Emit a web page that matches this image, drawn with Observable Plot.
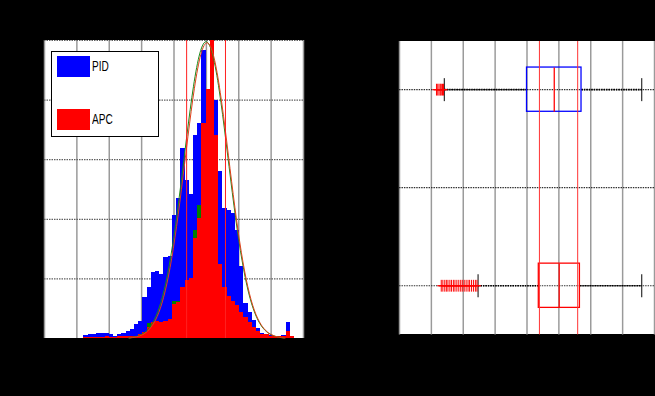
<!DOCTYPE html>
<html>
<head>
<meta charset="utf-8">
<script src="https://cdn.jsdelivr.net/npm/d3@7"></script>
<script src="https://cdn.jsdelivr.net/npm/@observablehq/plot@0.6"></script>
<style>
html, body { margin: 0; padding: 0; background: #000; overflow: hidden; }
#wrap { position: relative; width: 655px; height: 396px; background: #000; overflow: hidden;
        font-family: "Liberation Sans", Arial, sans-serif; }
#p1 { position: absolute; left: 44px; top: 40px; }
#p2 { position: absolute; left: 399px; top: 41px; }
#legend { position: absolute; left: 51px; top: 51px; width: 106px; height: 84px;
          background: #fff; border: 1.5px solid #000; }
.sw { position: absolute; left: 5px; width: 33px; height: 21px; }
.lab { position: absolute; left: 40px; font-size: 14px; line-height: 14px; color: #000;
       transform: scaleX(0.72); transform-origin: left center; }
</style>
</head>
<body>
<div id="wrap">
  <div id="p1"></div>
  <div id="p2"></div>
  <div id="legend"></div>
</div>
<script>
// ---------- data ----------
const seriesNames = ["PID", "APC"];
const seriesColors = ["#0000ff", "#ff0000"];

const binStart = 1.22;   // first histogram bin edge
const binWidth = 0.13;   // histogram bin width

const pidCounts = [0.05,0.06,0.06,0.08,0.09,0.09,0.06,0.04,0.07,0.08,
                   0.11,0.15,0.24,0.28,0.68,0.86,1.10,1.12,1.08,1.36,
                   1.38,2.06,2.35,3.18,2.65,2.42,3.40,3.60,4.83,3.50,
                   4.50,4.00,2.80,2.18,2.15,2.10,1.81,1.20,0.58,0.44,
                   0.30,0.16,0.08,0.05,0.05,0.04,0.04,0.05,0.27,0.02];
const apcCounts = [0.02,0.02,0.02,0.02,0.02,0.03,0.02,0.02,0.03,0.03,
                   0.03,0.03,0.04,0.06,0.10,0.19,0.27,0.29,0.27,0.29,
                   0.32,0.57,0.60,0.86,0.97,1.01,1.68,2.01,3.60,4.17,
                   5.00,3.40,1.25,0.85,0.70,0.62,0.55,0.44,0.36,0.27,
                   0.19,0.11,0.07,0.06,0.04,0.04,0.04,0.04,0.11,0.03];
// third (green) bar series, visible only where it peeks above red
const greenBins   = [15, 21, 22, 26, 27];
const greenCounts = [0.26, 0.62, 0.62, 1.81, 2.23];

// fitted curves
const fitGreenX = [2.6,2.8,3.0,3.2,3.4,3.6,3.8,4.0,4.2,4.4,4.6,4.8,5.0,5.2,5.4,5.6,5.8,6.0,6.2,6.4,6.6,6.8,7.0,7.2,7.4];
const fitGreenY = [0.010,0.028,0.069,0.156,0.324,0.617,1.077,1.726,2.535,3.418,4.225,4.789,4.98,4.748,4.152,3.331,2.450,1.653,1.023,0.580,0.302,0.144,0.063,0.025,0.009];
const fitRedX = [2.63,2.83,3.03,3.23,3.43,3.63,3.83,4.03,4.23,4.43,4.63,4.83,5.03,5.23,5.43,5.63,5.83,6.03,6.23,6.43,6.63,6.83,7.03,7.23,7.43];
const fitRedY = [0.009,0.026,0.064,0.147,0.310,0.595,1.049,1.691,2.500,3.385,4.197,4.768,4.96,4.726,4.124,3.298,2.414,1.620,0.995,0.559,0.288,0.136,0.059,0.023,0.008];

const limitLines = [4.39, 5.59];

const xTicks = [0,1,2,3,4,5,6,7,8];
const yTicksHist = [1,2,3,4,5];
const yTicksBox = [1, 1.5, 2];

// box plots
const boxPos   = [1, 2];
const boxQ1    = [4.00, 4.37];
const boxMed   = [4.855, 5.01];
const boxQ3    = [5.71, 5.66];
const boxLo    = [1.405, 2.465];
const boxHi    = [7.60, 7.60];
const boxColor = ["#0000ff", "#ff0000"];
const pidOutliers = [1.16,1.20,1.24,1.28,1.31,1.35,1.38];
const apcOutliers = [1.31,1.36,1.42,1.47,1.52,1.58,1.63,1.69,1.74,1.80,1.86,1.92,1.97,2.03,2.09,2.15,2.20,2.26,2.32,2.38,2.43];

// ---------- tables ----------
const bins = pidCounts.map((p, i) => ({
  x1: binStart + i * binWidth, x2: binStart + (i + 1) * binWidth, pid: p, apc: apcCounts[i]
}));
const greens = greenBins.map((b, i) => ({
  x1: binStart + b * binWidth, x2: binStart + (b + 1) * binWidth, v: greenCounts[i]
}));
const fitG = fitGreenX.map((x, i) => ({x, y: fitGreenY[i]}));
const fitR = fitRedX.map((x, i) => ({x, y: fitRedY[i]}));
const boxes = boxPos.map((p, i) => ({pos: p, q1: boxQ1[i], med: boxMed[i], q3: boxQ3[i],
  lo: boxLo[i], hi: boxHi[i], color: boxColor[i]}));
const outliers = [
  ...pidOutliers.map(x => ({x, pos: boxPos[0]})),
  ...apcOutliers.map(x => ({x, pos: boxPos[1]}))
];

// ---------- left: histogram ----------
const W1 = 259, H1 = 298;
const hist = Plot.plot({
  width: W1, height: H1, margin: 0,
  style: {background: "#fff", overflow: "visible"},
  x: {domain: [0, 8], axis: null},
  y: {domain: [0, 5], axis: null},
  marks: [
    Plot.ruleX(xTicks, {stroke: "#9a9a9a", strokeWidth: 1.5}),
    Plot.ruleY(yTicksHist, {stroke: "#606060", strokeWidth: 1.2, strokeDasharray: "1.5,1"}),
    Plot.rectY(bins, {x1: "x1", x2: "x2", y: "pid", fill: seriesColors[0], shapeRendering: "crispEdges"}),
    Plot.rectY(greens, {x1: "x1", x2: "x2", y: "v", fill: "#008000", shapeRendering: "crispEdges"}),
    Plot.rectY(bins, {x1: "x1", x2: "x2", y: "apc", fill: seriesColors[1], shapeRendering: "crispEdges"}),
    Plot.line(fitG, {x: "x", y: "y", stroke: "#1a8a1a", strokeWidth: 1, curve: "natural"}),
    Plot.line(fitR, {x: "x", y: "y", stroke: "#e0401a", strokeWidth: 1, curve: "natural"}),
    Plot.ruleX(limitLines, {stroke: "#ff2020", strokeWidth: 1})
  ]
});
document.getElementById("p1").appendChild(hist);

// ---------- right: box plots ----------
const unit = W1 / 8;          // px per x unit (same as left)
const W2 = 260, H2 = 298;
const rowPx = 199.5;          // px between the two rows
const yTop = 1 - 49 / rowPx, yBot = 2 + 50 / rowPx;
const boxH = 22.5 / rowPx, capH = 11.7 / rowPx;
const plusH = 6 / rowPx, plusW = 4 / unit;
const bp = Plot.plot({
  width: W2, height: H2, margin: 0,
  style: {background: "#fff", overflow: "visible"},
  x: {domain: [0, W2 / unit], axis: null},
  y: {domain: [yTop, yBot], reverse: true, axis: null},
  color: {type: "identity"},
  marks: [
    Plot.ruleX(xTicks, {stroke: "#9a9a9a", strokeWidth: 1.5}),
    Plot.ruleY(yTicksBox, {stroke: "#303030", strokeWidth: 1.2, strokeDasharray: "1.5,1"}),
    Plot.link(boxes, {x1: "q3", x2: "hi", y1: "pos", y2: "pos", stroke: "#000", strokeWidth: 1.6, strokeDasharray: "1.5,1"}),
    Plot.link(boxes, {x1: "lo", x2: "q1", y1: "pos", y2: "pos", stroke: "#000", strokeWidth: 1.6, strokeDasharray: "1.5,1"}),
    Plot.link(boxes, {x1: "lo", x2: "lo", y1: d => d.pos - capH, y2: d => d.pos + capH, stroke: "#000"}),
    Plot.link(boxes, {x1: "hi", x2: "hi", y1: d => d.pos - capH, y2: d => d.pos + capH, stroke: "#000"}),
    Plot.rect(boxes, {x1: "q1", x2: "q3", y1: d => d.pos - boxH, y2: d => d.pos + boxH,
      fill: "none", stroke: "color", strokeWidth: 1.3}),
    Plot.link(boxes, {x1: "med", x2: "med", y1: d => d.pos - boxH, y2: d => d.pos + boxH, stroke: "#ff0000", strokeWidth: 1.3}),
    // '+' outlier markers
    Plot.link(outliers, {x1: "x", x2: "x", y1: d => d.pos - plusH, y2: d => d.pos + plusH, stroke: "#ff0000", strokeWidth: 1}),
    Plot.link(outliers, {x1: d => d.x - plusW, x2: d => d.x + plusW, y1: "pos", y2: "pos", stroke: "#ff0000", strokeWidth: 1.2}),
    Plot.ruleX(limitLines, {stroke: "#ff3030", strokeWidth: 1})
  ]
});
document.getElementById("p2").appendChild(bp);

// ---------- legend ----------
const legend = document.getElementById("legend");
seriesNames.forEach((name, i) => {
  const sw = document.createElement("div");
  sw.className = "sw";
  sw.style.top = (i === 0 ? 3.5 : 56.5) + "px";
  sw.style.background = seriesColors[i];
  legend.appendChild(sw);
  const lab = document.createElement("div");
  lab.className = "lab";
  lab.style.top = (i === 0 ? 7 : 60) + "px";
  lab.textContent = name;
  legend.appendChild(lab);
});
</script>
</body>
</html>
